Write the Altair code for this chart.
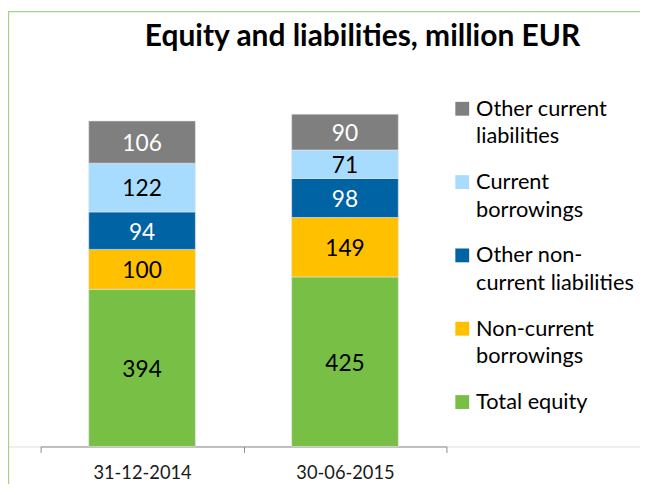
import altair as alt
import pandas as pd

# ---- data ----
dates = ["31-12-2014", "30-06-2015"]
series = ["Total equity", "Non-current borrowings", "Other non-current liabilities",
          "Current borrowings", "Other current liabilities"]
values_2014 = [394, 100, 94, 122, 106]
values_2015 = [425, 149, 98, 71, 90]
legend_labels = ["Total equity", "Non-current\nborrowings", "Other non-\ncurrent liabilities",
                 "Current\nborrowings", "Other current\nliabilities"]
colors = ["#78bf45", "#ffc000", "#0063a4", "#a8dcfe", "#7f7f7f"]
title_text = "Equity and liabilities, million EUR"

rows = []
for d, vals in zip(dates, [values_2014, values_2015]):
    for i, (s, v) in enumerate(zip(series, vals)):
        rows.append({"date": d, "series": s, "value": v, "idx": i})
df = pd.DataFrame(rows)
leg = pd.DataFrame({"series": series, "label": legend_labels})

FONT = "Lato"
W = 640
BASE = 441          # plot-area height: the x axis sits at its bottom
PAD_B = 38
FRAME = "#a5d38b"

x_scale = alt.Scale(domain=dates, range=[33, 444], paddingInner=0, paddingOuter=0)
y_scale = alt.Scale(domain=[0, 1000], range=[BASE, BASE - 404])
color_scale = alt.Scale(domain=series, range=colors)
x_axis = alt.Axis(title=None, labelAngle=0, tickBand="extent",
                  domainColor="#8c8c8c", tickColor="#8c8c8c", tickSize=6,
                  labelFont=FONT, labelFontSize=18.5, labelColor="#1a1a1a",
                  labelPadding=11)

base = alt.Chart(df).transform_stack(
    stack="value", as_=["y0", "y1"], groupby=["date"],
    sort=[alt.SortField("idx", order="ascending")]
).transform_calculate(mid="(datum.y0 + datum.y1) / 2")

bars = base.mark_bar(size=108, stroke="#e6e6e6", strokeWidth=0.6).encode(
    x=alt.X("date:N", scale=x_scale, sort=dates, axis=x_axis),
    y=alt.Y("y0:Q", scale=y_scale, axis=None),
    y2="y1:Q",
    color=alt.Color("series:N", scale=color_scale, legend=None),
)

labels = base.mark_text(font=FONT, fontSize=23, baseline="middle", align="center", dy=2).encode(
    x=alt.X("date:N", scale=x_scale, sort=dates, axis=x_axis),
    y=alt.Y("mid:Q", scale=y_scale, axis=None),
    text=alt.Text("value:Q"),
    color=alt.condition(
        alt.FieldOneOfPredicate(field="series",
                                oneOf=["Other current liabilities", "Other non-current liabilities"]),
        alt.value("white"), alt.value("black")),
)

leg_y = alt.Y("series:N", scale=alt.Scale(domain=list(reversed(series)), range=[99, 396],
                                          padding=0), axis=None)
leg_sq = alt.Chart(leg).mark_square(size=196, opacity=1).encode(
    x=alt.value(460),
    y=leg_y,
    color=alt.Color("series:N", scale=color_scale, legend=None),
)
leg_txt = alt.Chart(leg).mark_text(font=FONT, fontSize=22, align="left", baseline="top",
                                   lineBreak="\n", lineHeight=28, dy=-10, color="black").encode(
    x=alt.value(474),
    y=leg_y,
    text="label:N",
)

title = alt.Chart(pd.DataFrame({"t": [title_text]})).mark_text(
    font=FONT, fontSize=30.3, fontWeight="bold", align="center", baseline="alphabetic", color="black"
).encode(x=alt.value(359), y=alt.value(35), text="t:N")

frame_top = alt.Chart(pd.DataFrame({"a": [0]})).mark_rule(color=FRAME, strokeWidth=1.2).encode(
    x=alt.value(0), x2=alt.value(W), y=alt.value(0.6))
frame_left = alt.Chart(pd.DataFrame({"a": [0]})).mark_rule(color=FRAME, strokeWidth=1.2).encode(
    x=alt.value(0.6), y=alt.value(0), y2=alt.value(BASE + PAD_B))

chart = alt.layer(
    frame_top, frame_left, bars, labels, leg_sq, leg_txt, title
).properties(
    width=W, height=BASE, autosize=alt.AutoSizeParams(type="none"),
    padding={"left": 0, "top": 0, "right": 0, "bottom": PAD_B}
).configure_view(strokeWidth=0, stroke="transparent").configure(background="white")

chart.save("out.html", embed_options={"renderer": "svg", "actions": False})
